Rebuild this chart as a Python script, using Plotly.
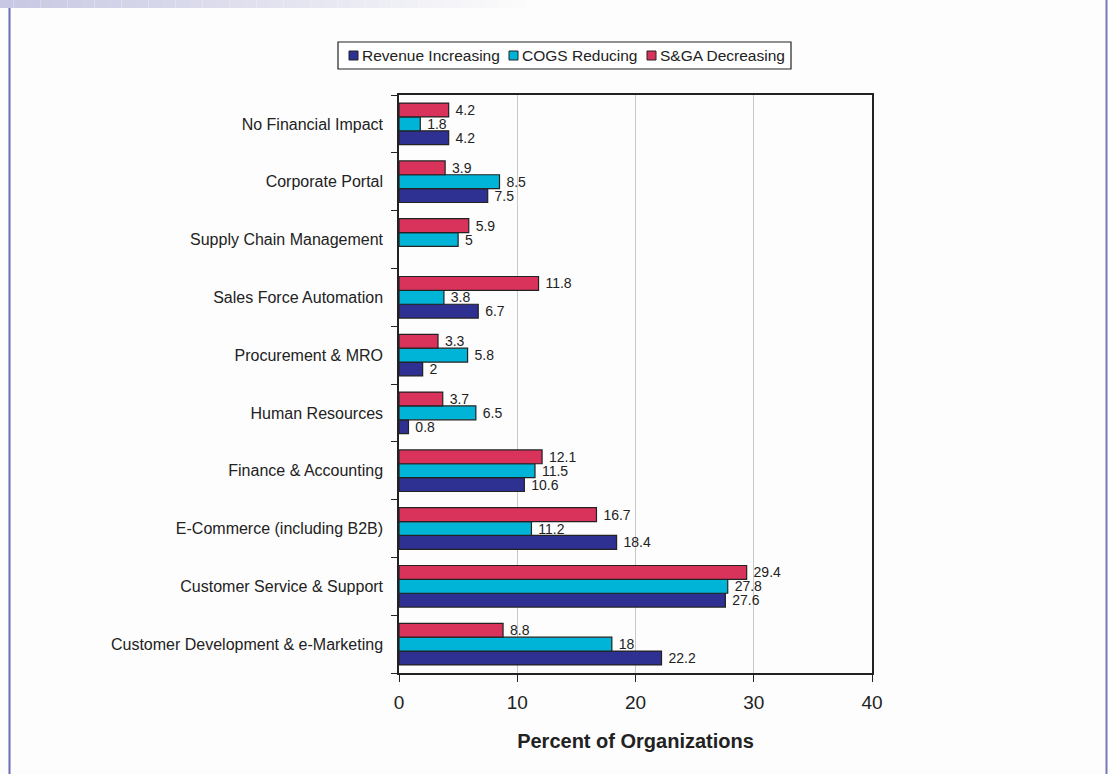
import plotly.graph_objects as go

# Categories listed bottom-to-top (Plotly draws the first category at the bottom)
categories = [
    "Customer Development & e-Marketing",
    "Customer Service & Support",
    "E-Commerce (including B2B)",
    "Finance & Accounting",
    "Human Resources",
    "Procurement & MRO",
    "Sales Force Automation",
    "Supply Chain Management",
    "Corporate Portal",
    "No Financial Impact",
]
revenue_increasing = [22.2, 27.6, 18.4, 10.6, 0.8, 2, 6.7, None, 7.5, 4.2]
cogs_reducing = [18, 27.8, 11.2, 11.5, 6.5, 5.8, 3.8, 5, 8.5, 1.8]
sga_decreasing = [8.8, 29.4, 16.7, 12.1, 3.7, 3.3, 11.8, 5.9, 3.9, 4.2]

series_names = ["Revenue Increasing", "COGS Reducing", "S&GA Decreasing"]
series_values = [revenue_increasing, cogs_reducing, sga_decreasing]
series_colors = ["#2e3192", "#00b4d8", "#d9335c"]

W, H = 1108, 774
L, R, T, B = 399, 236, 95, 101
pw, ph = W - L - R, H - T - B


def px_x(x):
    return (x - L) / pw


def px_y(y):
    return (H - B - y) / ph


fig = go.Figure()
for name, vals, color in zip(series_names, series_values, series_colors):
    fig.add_trace(go.Bar(
        y=categories, x=vals, name=name, orientation="h",
        marker=dict(color=color, line=dict(color="#222222", width=1.2)),
        text=[("" if v is None else "\u00a0" + f"{v:g}") for v in vals],
        textposition="outside", cliponaxis=False, constraintext="none",
        textfont=dict(family="Liberation Sans, Arial", size=14, color="#222222"),
    ))

shapes = []
annotations = []

# faded band across the top-left of the page
steps = 40
for i in range(steps):
    t = i / (steps - 1)
    r = int(200 + (253 - 200) * t)
    g = int(200 + (253 - 200) * t)
    b = int(228 + (253 - 228) * t)
    x0 = i * 540 / steps
    x1 = (i + 1) * 540 / steps
    shapes.append(dict(type="rect", xref="paper", yref="paper",
                       x0=px_x(x0), x1=px_x(x1), y0=px_y(8), y1=px_y(0),
                       line=dict(width=0), fillcolor=f"rgb({r},{g},{b})", layer="below"))
# vertical rules at the page edges
shapes.append(dict(type="line", xref="paper", yref="paper",
                   x0=px_x(9.5), x1=px_x(9.5), y0=px_y(8), y1=px_y(774),
                   line=dict(color="#6b6bb8", width=2)))
shapes.append(dict(type="line", xref="paper", yref="paper",
                   x0=px_x(1106.5), x1=px_x(1106.5), y0=px_y(0), y1=px_y(774),
                   line=dict(color="#7878b8", width=2)))

# single-row legend box with square swatches
shapes.append(dict(type="rect", xref="paper", yref="paper",
                   x0=px_x(338), x1=px_x(791), y0=px_y(69), y1=px_y(42),
                   line=dict(color="#222222", width=1.2), fillcolor="#ffffff"))
swatch_left = [349, 509, 647]
for sx, name, color in zip(swatch_left, series_names, series_colors):
    shapes.append(dict(type="rect", xref="paper", yref="paper",
                       x0=px_x(sx), x1=px_x(sx + 9), y0=px_y(60), y1=px_y(51),
                       line=dict(color="#222222", width=1), fillcolor=color))
    annotations.append(dict(xref="paper", yref="paper", x=px_x(sx + 11), y=px_y(56),
                            xanchor="left", yanchor="middle", showarrow=False,
                            text=name, font=dict(size=15.5, color="#222222")))

fig.update_layout(
    width=W, height=H,
    margin=dict(l=L, r=R, t=T, b=B, autoexpand=False),
    paper_bgcolor="#fdfdfd", plot_bgcolor="#fdfdfd",
    barmode="group", bargap=0.28, bargroupgap=0.0,
    font=dict(family="Liberation Sans, Arial", color="#222222"),
    showlegend=False,
    xaxis=dict(range=[0, 40], dtick=10, showgrid=True, gridcolor="#c8c8c8", gridwidth=1,
               showline=True, linecolor="#222222", linewidth=1.5, mirror=True,
               ticks="outside", ticklen=7, tickcolor="#222222", ticklabelstandoff=4,
               tickfont=dict(size=19), zeroline=False,
               title=dict(text="<b>Percent of Organizations</b>", font=dict(size=20), standoff=22)),
    yaxis=dict(showline=True, linecolor="#222222", linewidth=1.5, mirror=True,
               ticks="outside", ticklen=6, tickcolor="#222222", tickson="boundaries",
               ticklabelstandoff=11,
               tickfont=dict(size=16), showgrid=False),
    shapes=shapes,
    annotations=annotations,
)

fig.write_html("out.html")
